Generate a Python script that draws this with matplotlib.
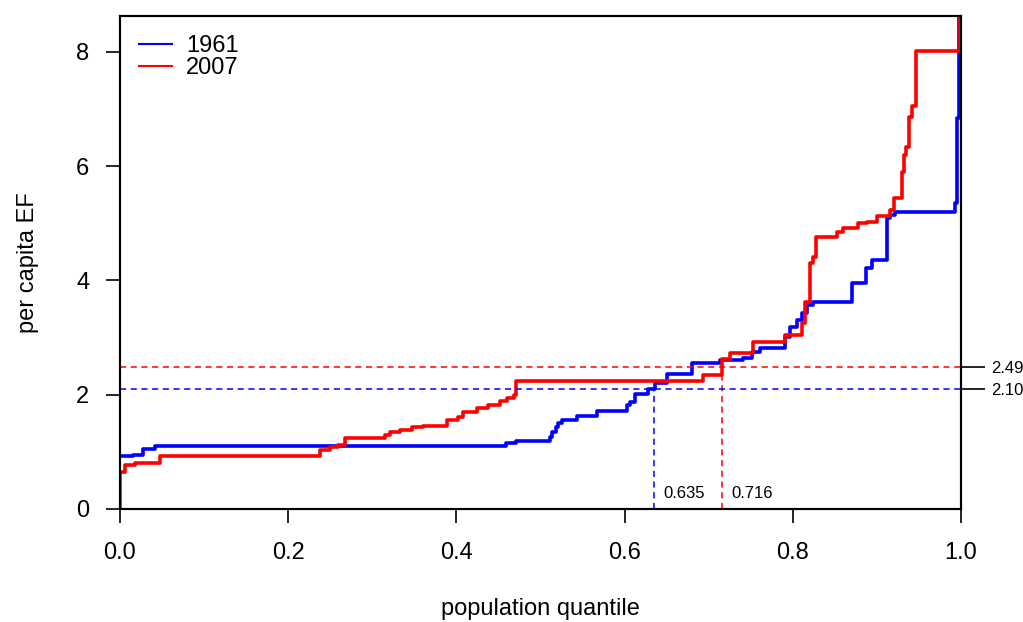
import matplotlib
matplotlib.use('Agg')
from matplotlib import pyplot as plt

# step curves of per capita EF against population quantile
x_1961 = [0, 0.015, 0.027, 0.042, 0.459, 0.471, 0.511, 0.514, 0.518, 0.521, 0.525,
          0.543, 0.567, 0.603, 0.607, 0.612, 0.628, 0.636, 0.650, 0.680, 0.713,
          0.741, 0.751, 0.761, 0.791, 0.797, 0.805, 0.811, 0.817, 0.824, 0.870,
          0.887, 0.894, 0.912, 0.916, 0.921, 0.993, 0.995, 0.998, 1.0]
y_1961 = [0.92, 0.95, 1.05, 1.10, 1.15, 1.19, 1.26, 1.35, 1.44, 1.50, 1.56,
          1.63, 1.72, 1.82, 1.87, 2.02, 2.10, 2.20, 2.36, 2.56, 2.60,
          2.65, 2.75, 2.82, 3.01, 3.19, 3.31, 3.43, 3.57, 3.62, 3.95,
          4.22, 4.35, 5.10, 5.15, 5.20, 5.35, 6.85, 9.0, 9.0]

x_2007 = [0, 0.0005, 0.006, 0.018, 0.048, 0.238, 0.250, 0.259, 0.268, 0.315,
          0.321, 0.333, 0.347, 0.360, 0.389, 0.402, 0.408, 0.424, 0.438, 0.452,
          0.460, 0.469, 0.471, 0.693, 0.716, 0.725, 0.753, 0.791, 0.811, 0.815,
          0.820, 0.824, 0.828, 0.853, 0.860, 0.878, 0.888, 0.900, 0.916, 0.920,
          0.930, 0.932, 0.935, 0.938, 0.942, 0.946, 0.999, 1.0]
y_2007 = [0.0, 0.65, 0.77, 0.80, 0.93, 1.03, 1.08, 1.12, 1.24, 1.30,
          1.35, 1.38, 1.44, 1.46, 1.56, 1.61, 1.70, 1.77, 1.82, 1.89,
          1.94, 2.00, 2.24, 2.35, 2.63, 2.73, 2.92, 3.05, 3.26, 3.62,
          4.31, 4.41, 4.76, 4.85, 4.92, 5.01, 5.03, 5.13, 5.24, 5.45,
          5.90, 6.20, 6.34, 6.86, 7.06, 8.02, 9.0, 9.0]

# average EF and the quantile where it is reached
mean_ef = {'1961': 2.10, '2007': 2.49}
mean_q = {'1961': 0.635, '2007': 0.716}

plt.rcParams['font.family'] = ['Liberation Sans', 'DejaVu Sans']

fig = plt.figure(figsize=(10.23, 6.22), dpi=100)
ax = fig.add_axes([0.1173, 0.1817, 0.8221, 0.7926])

ax.plot(x_1961, y_1961, drawstyle='steps-post', color='#0000ff', lw=2.6, label='1961')
ax.plot(x_2007, y_2007, drawstyle='steps-post', color='#ff0000', lw=2.6, label='2007')

# dashed guide lines
for yr, col in [('2007', '#ff0000'), ('1961', '#0000ff')]:
    ax.plot([0, 1], [mean_ef[yr], mean_ef[yr]], color=col, ls=(0, (4, 3)), lw=1.1)
    ax.plot([mean_q[yr], mean_q[yr]], [0, mean_ef[yr]], color=col, ls=(0, (4, 3)), lw=1.1)
    ax.text(mean_q[yr] + 0.011, 0.27, '%.3f' % mean_q[yr], fontsize=12,
            ha='left', va='center')

ax.set_xlim(0, 1)
ax.set_ylim(0, 8.63)
ax.set_xticks([0, 0.2, 0.4, 0.6, 0.8, 1.0])
ax.set_xticklabels(['0.0', '0.2', '0.4', '0.6', '0.8', '1.0'])
ax.set_yticks([0, 2, 4, 6, 8])
ax.tick_params(axis='both', direction='out', length=10, width=1.2, labelsize=17)
ax.tick_params(axis='x', pad=14)
ax.tick_params(axis='y', pad=12)

# ticks and labels for the means on the right side
ax2 = ax.twinx()
ax2.set_ylim(ax.get_ylim())
ax2.set_yticks([mean_ef['1961'], mean_ef['2007']])
ax2.set_yticklabels(['%.2f' % mean_ef['1961'], '%.2f' % mean_ef['2007']])
ax2.tick_params(axis='y', direction='out', length=17, width=1.2, labelsize=12, pad=5)

for a in (ax, ax2):
    for s in a.spines.values():
        s.set_linewidth(1.5)

ax.set_xlabel('population quantile', fontsize=17, labelpad=24)
ax.set_ylabel('per capita EF', fontsize=17, labelpad=27)

ax.legend(loc='upper left', frameon=False, fontsize=17, handlelength=1.4,
          handletextpad=0.6, labelspacing=0.0, borderaxespad=0.5,
          borderpad=0.3)
leg = ax.get_legend()
for line in leg.get_lines():
    line.set_linewidth(1.5)

fig.savefig('out.png', dpi=100)
